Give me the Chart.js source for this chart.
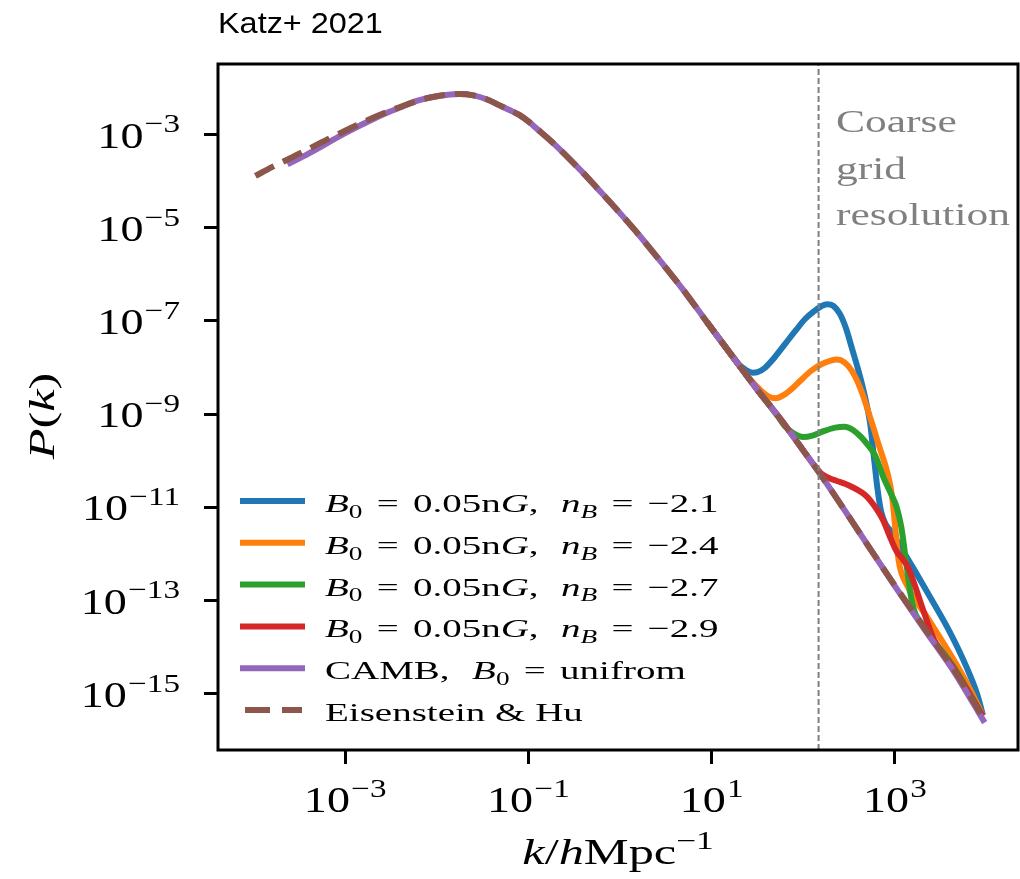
<!DOCTYPE html>
<html>
<head>
<meta charset="utf-8">
<script src="https://cdn.jsdelivr.net/npm/chart.js@4.4.1/dist/chart.umd.min.js"></script>
<style>
  html, body { margin: 0; padding: 0; background: #fff; }
  canvas { display: block; }
</style>
</head>
<body>
<canvas id="pk" width="1020" height="879"></canvas>
<script>
// ---- axis ticks and limits (decades) ----
const X_TICK_EXPONENTS = [-3, -1, 1, 3];
const Y_TICK_EXPONENTS = [-3, -5, -7, -9, -11, -13, -15];
const K_RANGE_EXP = [-4.388, 4.344];
const P_RANGE_EXP = [-16.208, -1.487];
const coarseGridK = 147;   // k of the coarse grid resolution marker [h/Mpc]

// ---- spectra: log10 k [h/Mpc] and log10 P(k) ----
const log10K_EH = [-3.98,-3.8,-3.6,-3.4,-3.2,-3.0,-2.8,-2.6,-2.4,-2.2,-2.0,-1.85,-1.75,-1.6,-1.45,-1.32,-1.2,-1.1,-1.0,-0.9,-0.8,-0.7,-0.55,-0.4,-0.25,-0.1,0.05,0.2,0.45,0.7,0.95,1.25,1.5,1.76,2.0,2.19,2.4,2.7,3.0,3.32,3.65,3.95];
const log10P_EH = [-3.89,-3.70,-3.51,-3.31,-3.11,-2.92,-2.73,-2.56,-2.41,-2.27,-2.18,-2.14,-2.13,-2.16,-2.25,-2.37,-2.48,-2.58,-2.72,-2.89,-3.06,-3.24,-3.53,-3.83,-4.15,-4.47,-4.80,-5.14,-5.74,-6.36,-7.03,-7.82,-8.48,-9.13,-9.78,-10.30,-10.91,-11.80,-12.68,-13.58,-14.50,-15.47];

const log10K_CAMB = [-3.63,-3.4,-3.2,-3.0,-2.8,-2.6,-2.4,-2.2,-2.0,-1.85,-1.75,-1.6,-1.45,-1.32,-1.2,-1.1,-1.0,-0.9,-0.8,-0.7,-0.55,-0.4,-0.25,-0.1,0.05,0.2,0.45,0.7,0.95,1.25,1.5,1.76,2.0,2.19,2.4,2.7,3.0,3.32,3.65,3.98];
const log10P_CAMB = [-3.64,-3.41,-3.19,-2.97,-2.77,-2.58,-2.42,-2.27,-2.18,-2.14,-2.13,-2.16,-2.25,-2.37,-2.48,-2.58,-2.72,-2.89,-3.06,-3.24,-3.53,-3.83,-4.15,-4.47,-4.80,-5.14,-5.74,-6.36,-7.03,-7.82,-8.48,-9.13,-9.78,-10.30,-10.91,-11.80,-12.69,-13.61,-14.54,-15.62];

// B0 = 0.05 nG, n_B = -2.1
const log10K_nB21 = [0.95,1.25,1.30,1.38,1.45,1.50,1.58,1.68,1.80,1.92,2.02,2.12,2.20,2.26,2.33,2.40,2.47,2.53,2.60,2.665,2.73,2.77,2.81,2.85,2.99,3.2,3.4,3.6,3.78,3.9,3.96];
const log10P_nB21 = [-7.03,-7.82,-7.94,-8.06,-8.11,-8.10,-8.01,-7.80,-7.50,-7.20,-6.96,-6.79,-6.68,-6.64,-6.68,-6.85,-7.18,-7.58,-8.05,-8.55,-9.2,-9.9,-10.6,-11.09,-11.6,-12.3,-12.98,-13.68,-14.42,-15.02,-15.45];

// n_B = -2.4
const log10K_nB24 = [0.95,1.25,1.40,1.52,1.62,1.70,1.78,1.88,1.97,2.08,2.19,2.30,2.37,2.45,2.53,2.63,2.74,2.83,2.92,2.97,3.01,3.04,3.14,3.35,3.65,3.82,3.96];
const log10P_nB24 = [-7.03,-7.82,-8.21,-8.46,-8.62,-8.66,-8.60,-8.45,-8.28,-8.08,-7.94,-7.85,-7.83,-7.89,-8.07,-8.48,-9.13,-9.70,-10.27,-10.77,-11.56,-12.13,-12.70,-13.35,-14.30,-14.90,-15.47];

// n_B = -2.7
const log10K_nB27 = [0.95,1.25,1.50,1.72,1.80,1.90,2.00,2.10,2.23,2.35,2.45,2.55,2.63,2.70,2.78,2.88,2.96,3.02,3.07,3.12,3.19,3.32,3.65,3.96];
const log10P_nB27 = [-7.03,-7.82,-8.48,-9.04,-9.26,-9.42,-9.49,-9.46,-9.36,-9.29,-9.27,-9.35,-9.49,-9.65,-9.87,-10.38,-10.72,-11.00,-11.42,-12.13,-13.06,-13.56,-14.45,-15.48];

// n_B = -2.9
const log10K_nB29 = [0.95,1.25,1.50,1.76,2.0,2.12,2.20,2.28,2.36,2.45,2.55,2.63,2.70,2.78,2.87,2.95,3.02,3.08,3.14,3.21,3.32,3.43,3.65,3.96];
const log10P_nB29 = [-7.03,-7.82,-8.48,-9.13,-9.78,-10.10,-10.28,-10.37,-10.43,-10.49,-10.58,-10.67,-10.78,-10.98,-11.27,-11.65,-11.95,-12.10,-12.27,-12.63,-13.27,-13.85,-14.48,-15.48];

const spectralIndices = ['\u22122.1', '\u22122.4', '\u22122.7', '\u22122.9'];
const fieldStrength = '0.05';
const seriesColors = ['#1f77b4', '#ff7f0e', '#2ca02c', '#d62728', '#9467bd', '#8c564b'];

const toPoints = (lk, lp) => lk.map((v, i) => ({ x: 10 ** v, y: 10 ** lp[i] }));

// ---- rich text helpers (italic / sub / sup runs, horizontally widened) ----
const SERIF = '"Liberation Serif", "Times New Roman", serif';
function setFont(ctx, size, italic) {
  ctx.font = (italic ? 'italic ' : '') + size + 'px ' + SERIF;
}
function runSize(r, size) { return (r.sub || r.sup) ? size * (r.scale || 0.7) : size; }
function measureRuns(ctx, runs, size) {
  let w = 0;
  for (const r of runs) { setFont(ctx, runSize(r, size), r.i); w += ctx.measureText(r.t).width + (r.gap || 0); }
  return w;
}
function drawRuns(ctx, runs, x, y, size, sx, align, color, angle) {
  ctx.save();
  ctx.translate(x, y);
  if (angle) ctx.rotate(angle);
  ctx.scale(sx, 1);
  ctx.textAlign = 'left';
  ctx.textBaseline = 'alphabetic';
  ctx.fillStyle = color;
  const w = measureRuns(ctx, runs, size);
  let cx = align === 'right' ? -w : (align === 'center' ? -w / 2 : 0);
  for (const r of runs) {
    setFont(ctx, runSize(r, size), r.i);
    const dy = r.sub ? size * 0.22 : (r.sup ? -size * 0.42 : 0);
    ctx.fillText(r.t, cx, dy);
    cx += ctx.measureText(r.t).width + (r.gap || 0);
  }
  ctx.restore();
}
const powerRuns = e => [{ t: '10', gap: 1 }, { t: (e < 0 ? '\u2212' : '') + Math.abs(e), sup: true, scale: 0.72 }];

// math-style "=" with wide spacing on both sides
const EQ = [{ t: ' ', gap: 3 }, { t: '=' }, { t: ' ', gap: 3 }];
const legendRows = [
  ...spectralIndices.map((n, i) => ({
    color: seriesColors[i], dash: [],
    runs: [{ t: 'B', i: true }, { t: '0', sub: true }, ...EQ, { t: fieldStrength + 'n' }, { t: 'G', i: true },
           { t: ',  ', gap: 2 }, { t: 'n', i: true }, { t: 'B', i: true, sub: true }, ...EQ, { t: n }]
  })),
  { color: seriesColors[4], dash: [],
    runs: [{ t: 'CAMB,  ', gap: 2 }, { t: 'B', i: true }, { t: '0', sub: true }, ...EQ, { t: 'unifrom' }] },
  { color: seriesColors[5], dash: [25, 12], runs: [{ t: 'Eisenstein & Hu' }] }
];

// frame around the plotting area, above the curves
const framePlugin = {
  id: 'frame',
  afterDatasetsDraw(chart) {
    const { ctx, chartArea: a } = chart;
    ctx.save();
    ctx.strokeStyle = '#000';
    ctx.lineWidth = 3;
    ctx.strokeRect(a.left, a.top, a.right - a.left, a.bottom - a.top);
    ctx.restore();
  }
};

// tick labels, axis titles, annotation, legend and heading
const textPlugin = {
  id: 'texts',
  afterDraw(chart) {
    const { ctx, chartArea: a, scales } = chart;
    const TICK = 36, TSX = 1.28;
    scales.x.ticks.forEach(t => {
      const px = scales.x.getPixelForValue(t.value);
      drawRuns(ctx, powerRuns(Math.round(Math.log10(t.value))), px, 812, TICK, TSX, 'center', '#000');
    });
    scales.y.ticks.forEach(t => {
      const py = scales.y.getPixelForValue(t.value);
      drawRuns(ctx, powerRuns(Math.round(Math.log10(t.value))), 180, py + 13, TICK, TSX, 'right', '#000');
    });

    // axis titles
    drawRuns(ctx, [{ t: 'k', i: true }, { t: '/' }, { t: 'h', i: true }, { t: 'Mpc' }, { t: '\u22121', sup: true }],
             (a.left + a.right) / 2, 864, 36, 1.4, 'center', '#000');
    drawRuns(ctx, [{ t: 'P', i: true }, { t: '(' }, { t: 'k', i: true }, { t: ')' }],
             54, 416, 36, 1.4, 'center', '#000', -Math.PI / 2);

    // coarse grid note
    ['Coarse', 'grid', 'resolution'].forEach((w, i) =>
      drawRuns(ctx, [{ t: w }], 836, 132 + i * 46.5, 32, 1.36, 'left', '#808080'));

    // legend
    legendRows.forEach((row, i) => {
      const y = 501 + i * 41.8;
      ctx.save();
      ctx.strokeStyle = row.color;
      ctx.lineWidth = 6;
      ctx.lineCap = 'butt';
      ctx.setLineDash(row.dash);
      ctx.beginPath();
      if (row.dash.length) { ctx.moveTo(245, y); ctx.lineTo(302, y); }
      else { ctx.moveTo(240, y); ctx.lineTo(305, y); }
      ctx.stroke();
      ctx.restore();
      drawRuns(ctx, row.runs, 325, y + 11, 26, 1.5, 'left', '#000');
    });

    // heading
    ctx.save();
    ctx.translate(a.left, 33);
    ctx.scale(1.08, 1);
    ctx.font = '30px "Liberation Sans", Arial, sans-serif';
    ctx.fillStyle = '#000';
    ctx.textBaseline = 'alphabetic';
    ctx.fillText('Katz+ 2021', 0, 0);
    ctx.restore();
  }
};

const curve = { pointRadius: 0, pointHoverRadius: 0, fill: false, borderJoinStyle: 'round',
                borderCapStyle: 'butt', cubicInterpolationMode: 'monotone' };

const logAxis = (exps, range, fitFn) => ({
  type: 'logarithmic',
  min: 10 ** range[0],
  max: 10 ** range[1],
  afterBuildTicks: s => { s.ticks = exps.map(e => ({ value: 10 ** e })); },
  afterFit: fitFn,
  ticks: { display: false },
  grid: { display: true, drawOnChartArea: false, drawTicks: true, tickLength: 14, tickWidth: 3, tickColor: '#000' },
  border: { display: false }
});

new Chart(document.getElementById('pk'), {
  type: 'line',
  data: {
    datasets: [
      { ...curve, label: 'Eisenstein & Hu', data: toPoints(log10K_EH, log10P_EH), borderColor: seriesColors[5], borderWidth: 6, borderDash: [21, 10], order: 1 },
      { ...curve, label: 'CAMB', data: toPoints(log10K_CAMB, log10P_CAMB), borderColor: seriesColors[4], borderWidth: 6, order: 2 },
      { ...curve, label: 'nB -2.9', data: toPoints(log10K_nB29, log10P_nB29), borderColor: seriesColors[3], borderWidth: 6, order: 3 },
      { ...curve, label: 'nB -2.7', data: toPoints(log10K_nB27, log10P_nB27), borderColor: seriesColors[2], borderWidth: 6, order: 4 },
      { ...curve, label: 'nB -2.4', data: toPoints(log10K_nB24, log10P_nB24), borderColor: seriesColors[1], borderWidth: 6, order: 5 },
      { ...curve, label: 'nB -2.1', data: toPoints(log10K_nB21, log10P_nB21), borderColor: seriesColors[0], borderWidth: 6, order: 6 },
      { label: 'Coarse grid resolution', pointRadius: 0, borderColor: '#808080', borderWidth: 2, borderDash: [6, 3], tension: 0, order: 0,
        data: [{ x: coarseGridK, y: 10 ** P_RANGE_EXP[0] }, { x: coarseGridK, y: 10 ** P_RANGE_EXP[1] }] }
    ]
  },
  options: {
    responsive: false,
    animation: false,
    devicePixelRatio: 1,
    events: [],
    layout: { padding: { left: 0, right: 2, top: 64, bottom: 0 } },
    plugins: { legend: { display: false }, title: { display: false }, tooltip: { enabled: false } },
    scales: {
      x: { ...logAxis(X_TICK_EXPONENTS, K_RANGE_EXP, s => { s.height = 129; }), position: 'bottom' },
      y: { ...logAxis(Y_TICK_EXPONENTS, P_RANGE_EXP, s => { s.width = 218; }), position: 'left' }
    }
  },
  plugins: [framePlugin, textPlugin]
});
</script>
</body>
</html>
